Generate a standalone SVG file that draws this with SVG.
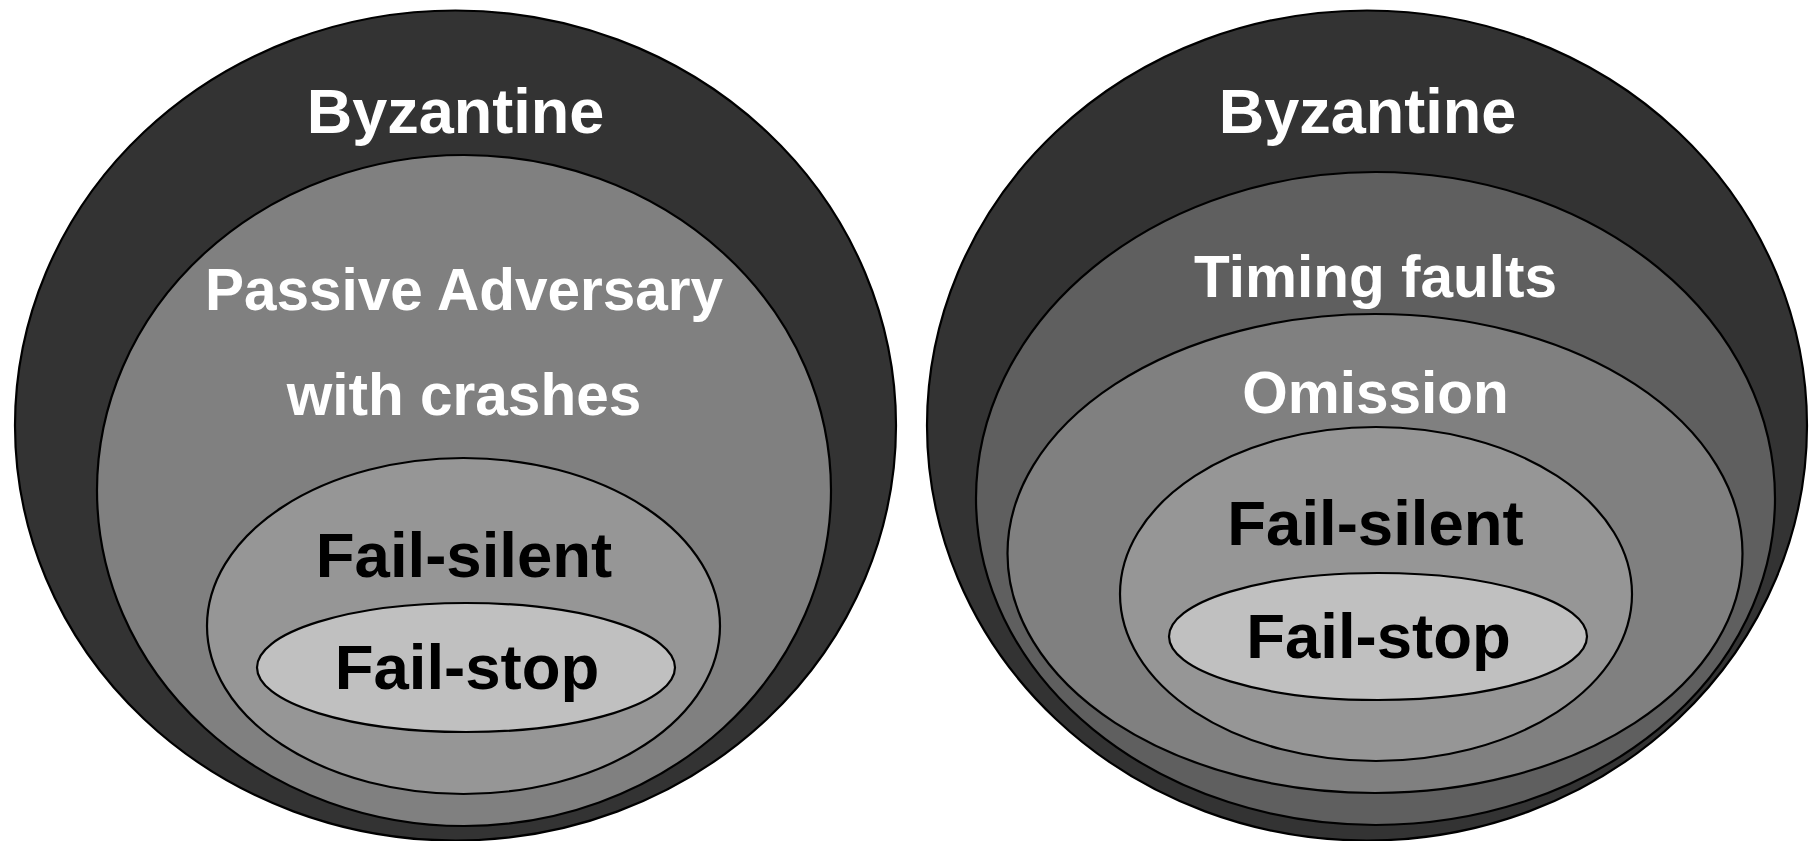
<svg xmlns="http://www.w3.org/2000/svg" width="1818" height="841" viewBox="0 0 1818 841">
  <style>
    ellipse { stroke: #000; stroke-width: 2.2; }
    .byz { fill: #333333; }
    .timing { fill: #5f5f5f; }
    .mid { fill: #808080; }
    .silent { fill: #969696; }
    .stop { fill: #c0c0c0; }
    text { font-family: "Liberation Sans", Arial, sans-serif; font-weight: bold; text-anchor: middle; }
    .lw { fill: #fff; font-size: 58.5px; }
    .lb { fill: #000; font-size: 63.5px; }
    .top { fill: #fff; font-size: 63px; }
  </style>
  <rect width="1818" height="841" fill="#fff"/>

  <!-- Left model: crash-fault hierarchy -->
  <g id="left-byzantine">
    <ellipse class="byz" cx="455.5" cy="425.5" rx="440.5" ry="415"/>
    <text class="top" x="455.5" y="133">Byzantine</text>
  </g>
  <g id="left-passive">
    <ellipse class="mid" cx="464" cy="490.5" rx="367" ry="335.5"/>
    <text class="lw" x="464" y="310">Passive Adversary</text>
    <text class="lw" x="464" y="415">with crashes</text>
  </g>
  <g id="left-failsilent">
    <ellipse class="silent" cx="463.5" cy="626" rx="256.5" ry="168"/>
    <text class="lb" x="464" y="577">Fail-silent</text>
  </g>
  <g id="left-failstop">
    <ellipse class="stop" cx="466" cy="667.5" rx="209" ry="64.5"/>
    <text class="lb" x="467" y="689">Fail-stop</text>
  </g>

  <!-- Right model: timing/omission hierarchy -->
  <g id="right-byzantine">
    <ellipse class="byz" cx="1367" cy="425.5" rx="440" ry="415"/>
    <text class="top" x="1367.5" y="133">Byzantine</text>
  </g>
  <g id="right-timing">
    <ellipse class="timing" cx="1375.5" cy="498.5" rx="399.5" ry="326.5"/>
    <text class="lw" x="1375.5" y="297">Timing faults</text>
  </g>
  <g id="right-omission">
    <ellipse class="mid" cx="1375" cy="553.5" rx="367.5" ry="239.5"/>
    <text class="lw" x="1375.5" y="413">Omission</text>
  </g>
  <g id="right-failsilent">
    <ellipse class="silent" cx="1376" cy="594" rx="256" ry="167"/>
    <text class="lb" x="1375.5" y="545">Fail-silent</text>
  </g>
  <g id="right-failstop">
    <ellipse class="stop" cx="1378" cy="636.5" rx="209" ry="63.5"/>
    <text class="lb" x="1378.5" y="658">Fail-stop</text>
  </g>

  <g id="connectors"/>
</svg>
